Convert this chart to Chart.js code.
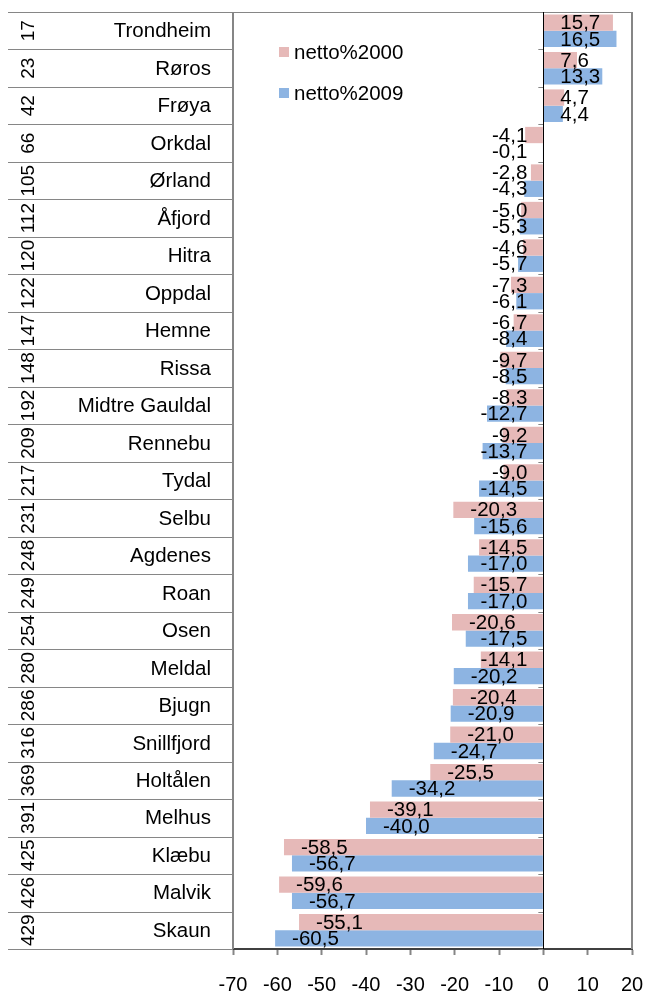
<!DOCTYPE html>
<html>
<head>
<meta charset="utf-8">
<title>netto%2000 / netto%2009</title>
<script src="https://cdn.jsdelivr.net/npm/chart.js@4.4.1/dist/chart.umd.min.js"></script>
<style>
  html, body { margin: 0; padding: 0; background: #fff; }
  #wrap { width: 645px; height: 993px; }
</style>
</head>
<body>
<div id="wrap"><canvas id="chart" width="645" height="993"></canvas></div>
<script>
// data
const ranks = [17, 23, 42, 66, 105, 112, 120, 122, 147, 148, 192, 209, 217, 231, 248, 249, 254, 280, 286, 316, 369, 391, 425, 426, 429];
const names = ['Trondheim', 'Røros', 'Frøya', 'Orkdal', 'Ørland', 'Åfjord', 'Hitra', 'Oppdal', 'Hemne', 'Rissa',
  'Midtre Gauldal', 'Rennebu', 'Tydal', 'Selbu', 'Agdenes', 'Roan', 'Osen', 'Meldal', 'Bjugn', 'Snillfjord',
  'Holtålen', 'Melhus', 'Klæbu', 'Malvik', 'Skaun'];
const netto2000 = [15.7, 7.6, 4.7, -4.1, -2.8, -5.0, -4.6, -7.3, -6.7, -9.7,
  -8.3, -9.2, -9.0, -20.3, -14.5, -15.7, -20.6, -14.1, -20.4, -21.0,
  -25.5, -39.1, -58.5, -59.6, -55.1];
const netto2009 = [16.5, 13.3, 4.4, -0.1, -4.3, -5.3, -5.7, -6.1, -8.4, -8.5,
  -12.7, -13.7, -14.5, -15.6, -17.0, -17.0, -17.5, -20.2, -20.9, -24.7,
  -34.2, -40.0, -56.7, -56.7, -60.5];
const xTicks = [-70, -60, -50, -40, -30, -20, -10, 0, 10, 20];

const FONT = 'Arial, "Liberation Sans", sans-serif';
const PINK = '#E6B9B8';
const BLUE = '#8DB4E2';
const GRAY = '#868686';

const fmt = v => v.toFixed(1).replace('.', ',');

// labels, borders, legend drawn on top of the bars
const extras = {
  id: 'extras',
  afterDatasetsDraw(chart) {
    const { ctx, chartArea: a, scales: { x, y } } = chart;
    const zero = x.getPixelForValue(0);
    const half = (y.getPixelForValue(1) - y.getPixelForValue(0)) / 2;
    ctx.save();

    // left category area: separators, names, ranks
    ctx.strokeStyle = GRAY;
    ctx.lineWidth = 1;
    for (let i = 0; i <= names.length; i++) {
      const yy = Math.round(y.getPixelForValue(i) - half) + 0.5;
      ctx.beginPath();
      ctx.moveTo(8, yy);
      ctx.lineTo(a.left, yy);
      ctx.stroke();
      // little ticks on the zero line
      ctx.beginPath();
      ctx.moveTo(zero - 5, yy);
      ctx.lineTo(zero, yy);
      ctx.stroke();
    }
    ctx.fillStyle = '#000';
    names.forEach((n, i) => {
      const cy = y.getPixelForValue(i);
      ctx.font = '20.5px ' + FONT;
      ctx.textAlign = 'right';
      ctx.textBaseline = 'middle';
      ctx.fillText(n, 211, cy + 1);
      ctx.save();
      ctx.translate(29, cy);
      ctx.rotate(-Math.PI / 2);
      ctx.font = '19px ' + FONT;
      ctx.textAlign = 'center';
      ctx.fillText(String(ranks[i]), 0, 0);
      ctx.restore();
    });

    // plot frame
    ctx.strokeStyle = GRAY;
    ctx.lineWidth = 2;
    ctx.beginPath();
    ctx.moveTo(a.left, a.bottom);
    ctx.lineTo(a.left, a.top);
    ctx.moveTo(a.right, a.top);
    ctx.lineTo(a.right, a.bottom);
    ctx.stroke();
    ctx.lineWidth = 1;
    ctx.beginPath();
    ctx.moveTo(8, a.top + 0.5);
    ctx.lineTo(a.right, a.top + 0.5);
    ctx.stroke();

    // zero line
    ctx.strokeStyle = '#000';
    ctx.lineWidth = 1;
    ctx.beginPath();
    ctx.moveTo(Math.round(zero) + 0.5, a.top);
    ctx.lineTo(Math.round(zero) + 0.5, a.bottom);
    ctx.stroke();

    // value labels
    ctx.font = '20.5px ' + FONT;
    ctx.textAlign = 'left';
    ctx.textBaseline = 'middle';
    ctx.fillStyle = '#000';
    chart.data.datasets.forEach((ds, di) => {
      chart.getDatasetMeta(di).data.forEach((bar, i) => {
        const v = ds.data[i];
        const t = fmt(v);
        const w = ctx.measureText(t).width;
        let left;
        if (v < 0) {
          left = bar.x + 17;
          if (left + w > zero - 16) left = zero - 16 - w;
        } else {
          left = bar.x - 17 - w;
          if (left < zero + 17) left = zero + 17;
        }
        ctx.fillText(t, left, bar.y + 1);
      });
    });

    // legend inside the plot
    ctx.font = '20.5px ' + FONT;
    chart.data.datasets.forEach((ds, di) => {
      const ly = a.top + 40 + di * 41;
      ctx.fillStyle = ds.backgroundColor;
      ctx.fillRect(a.left + 46, ly - 5, 10, 10);
      ctx.fillStyle = '#000';
      ctx.fillText(ds.label, a.left + 61, ly + 1);
    });

    ctx.restore();
  }
};

new Chart(document.getElementById('chart'), {
  type: 'bar',
  data: {
    labels: names,
    datasets: [
      { label: 'netto%2000', data: netto2000, backgroundColor: PINK, borderWidth: 0, categoryPercentage: 0.87, barPercentage: 1 },
      { label: 'netto%2009', data: netto2009, backgroundColor: BLUE, borderWidth: 0, categoryPercentage: 0.87, barPercentage: 1 }
    ]
  },
  options: {
    indexAxis: 'y',
    responsive: false,
    animation: false,
    devicePixelRatio: 1,
    layout: { padding: { left: 233, top: 12, right: 13, bottom: 0 } },
    plugins: {
      legend: { display: false },
      tooltip: { enabled: false }
    },
    scales: {
      y: { display: false },
      x: {
        min: xTicks[0],
        max: xTicks[xTicks.length - 1],
        ticks: {
          stepSize: xTicks[1] - xTicks[0],
          color: '#000',
          font: { family: FONT, size: 20 },
          padding: 18,
          maxRotation: 0
        },
        grid: { drawOnChartArea: false, drawTicks: true, tickLength: 6, tickColor: GRAY, tickWidth: 2 },
        border: { color: '#404040', width: 2 },
        afterFit: s => {
          s.height = 44;
          s.paddingLeft = 0; // tick padding would otherwise squeeze the plot sideways
          s.paddingRight = 0;
        }
      }
    }
  },
  plugins: [extras]
});
</script>
</body>
</html>
